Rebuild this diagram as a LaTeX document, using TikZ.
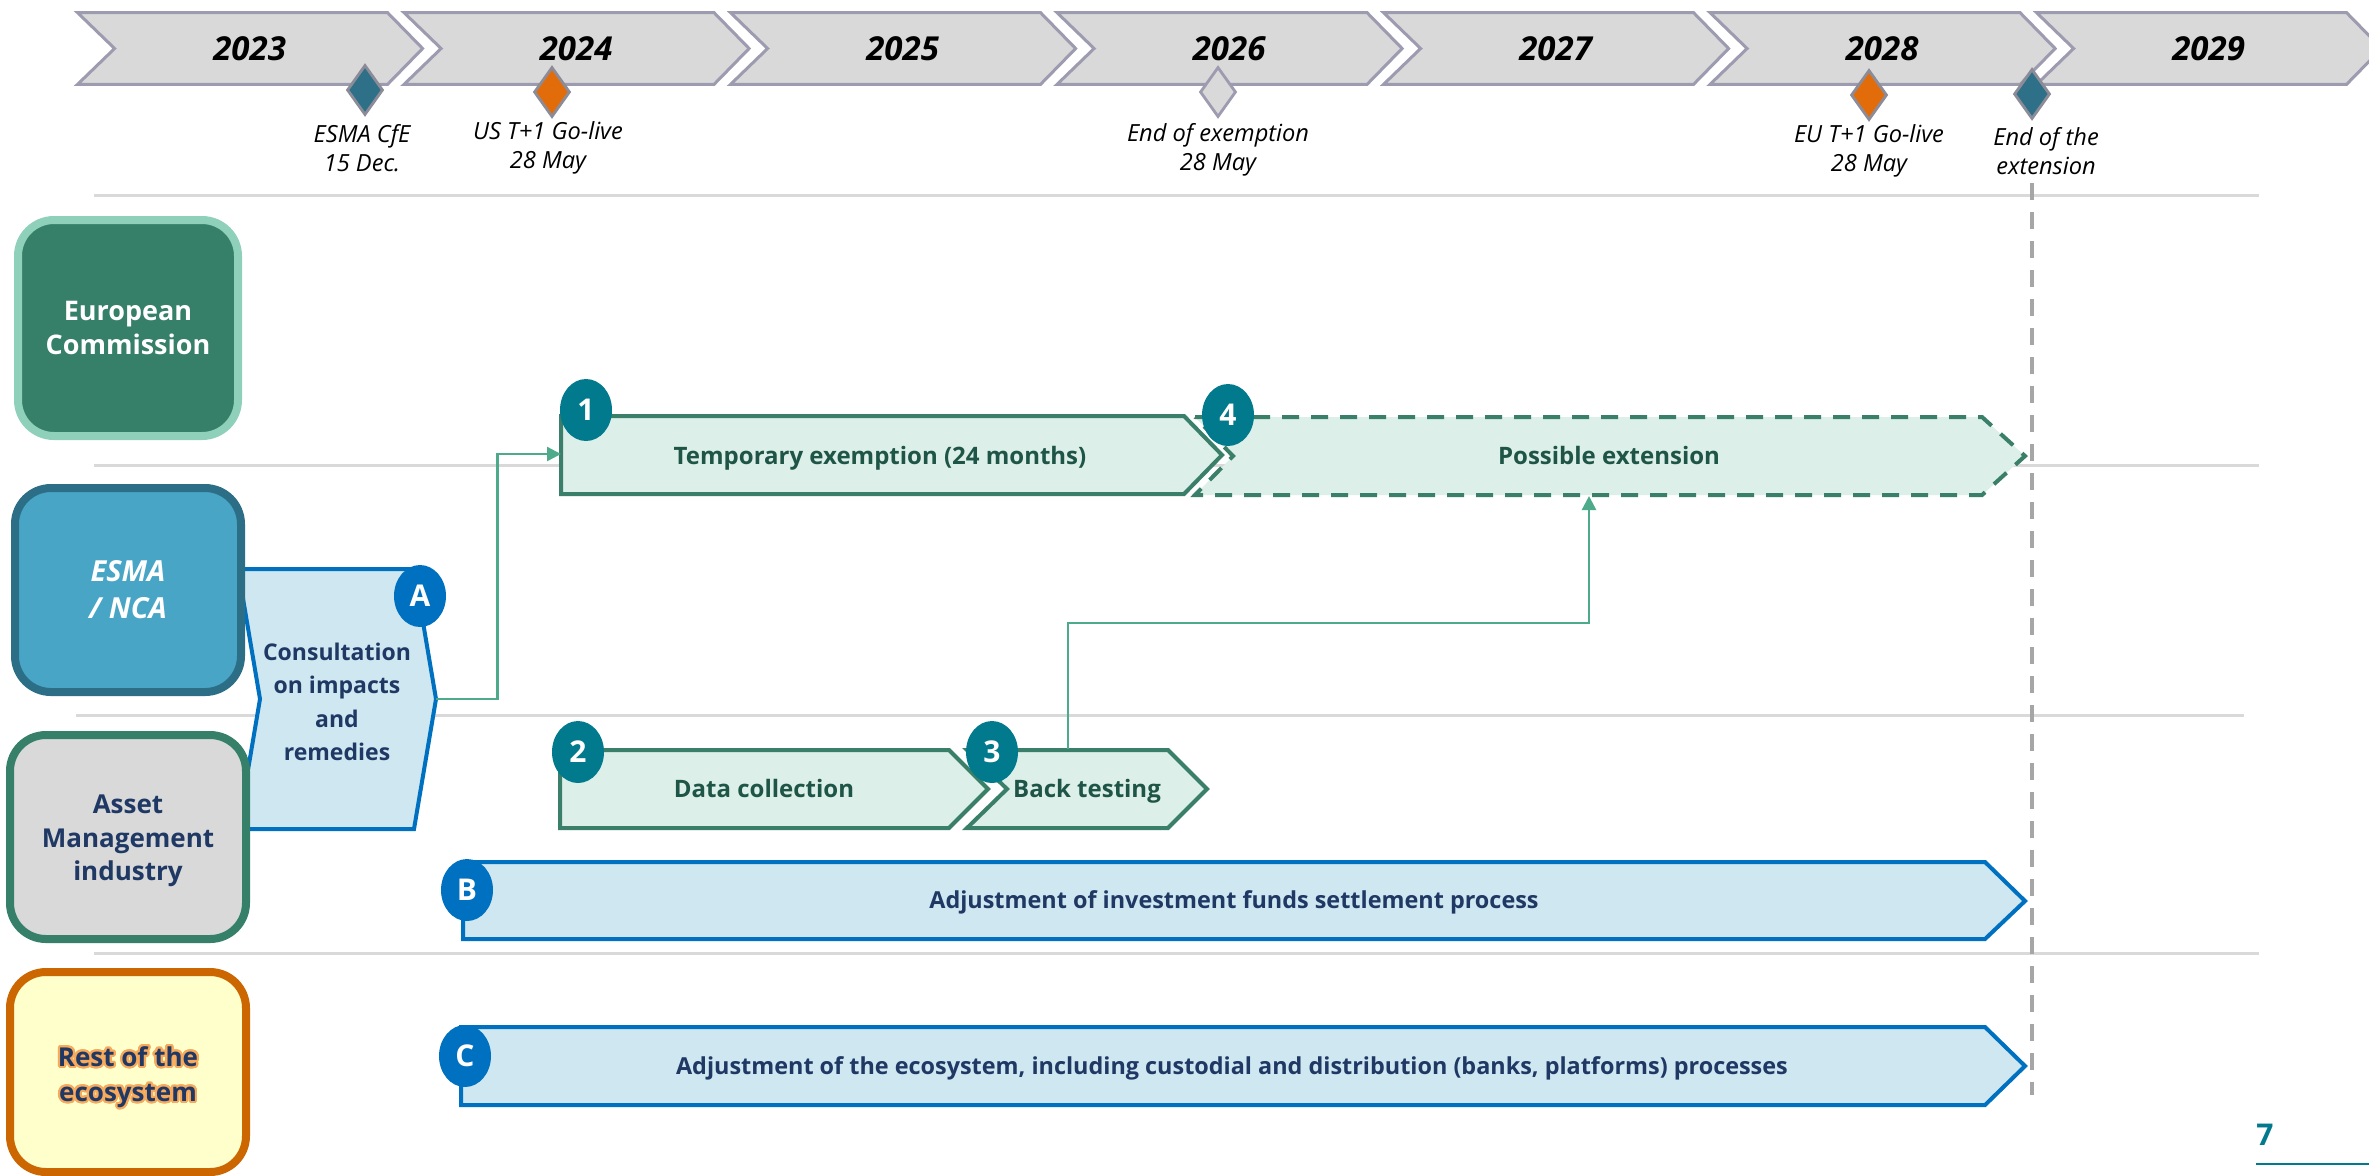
\documentclass[tikz,border=0pt]{standalone}
\usepackage{fontspec}
\setmainfont{Open Sans}
\usepackage{contour}
\contourlength{1.1pt}
\contournumber{24}
\usetikzlibrary{arrows.meta, positioning, shapes.geometric, calc}

\definecolor{yrFill}{HTML}{D9D9D9}
\definecolor{yrLine}{HTML}{9D9BB0}
\definecolor{msTeal}{HTML}{2E7088}
\definecolor{msOrange}{HTML}{E36C0A}
\definecolor{msLine}{HTML}{8C8C98}
\definecolor{sepGray}{HTML}{D9D9D9}
\definecolor{dashGray}{HTML}{A6A6A6}
\definecolor{ecFill}{HTML}{367F69}
\definecolor{ecLine}{HTML}{8FD0BB}
\definecolor{esFill}{HTML}{48A5C6}
\definecolor{esLine}{HTML}{2B6E86}
\definecolor{amFill}{HTML}{D9D9D9}
\definecolor{amLine}{HTML}{367F69}
\definecolor{reFill}{HTML}{FFFFCC}
\definecolor{reLine}{HTML}{CC6600}
\definecolor{reGlow}{HTML}{F7A95C}
\definecolor{navy}{HTML}{1F3864}
\definecolor{gLine}{HTML}{3A7F69}
\definecolor{gFill}{HTML}{DCEFE8}
\definecolor{gText}{HTML}{1E5546}
\definecolor{bLine}{HTML}{0070C0}
\definecolor{bFill}{HTML}{CFE7F0}
\definecolor{tealC}{HTML}{007A8C}
\definecolor{linkGreen}{HTML}{4DAA8A}

\begin{document}
\begin{tikzpicture}[x=0.5pt, y=-0.5pt,
  yearbox/.style={draw=yrLine, fill=yrFill, line width=1.5pt},
  yeartxt/.style={font=\fontsize{16.5}{19}\selectfont\bfseries\itshape},
  mstone/.style={diamond, draw=msLine, fill=#1, line width=1.4pt, inner sep=0pt,
    minimum width=18pt, minimum height=25pt},
  mstxt/.style={align=center, font=\fontsize{11.8}{14.3}\selectfont\itshape},
  sepline/.style={draw=sepGray, line width=1.5pt},
  actor/.style={rectangle, rounded corners=18pt, line width=4pt, align=center, inner sep=0pt},
  gbar/.style={draw=gLine, fill=gFill, line width=2pt},
  bbar/.style={draw=bLine, fill=bFill, line width=2pt},
  bartxt/.style={font=\fontsize{12}{14}\selectfont\bfseries, text height=8.6pt, text depth=0pt},
  badge/.style={ellipse, fill=#1, text=white, inner sep=0pt,
    minimum width=26pt, minimum height=31pt, font=\fontsize{15}{15}\selectfont\bfseries},
  link/.style={draw=linkGreen, line width=1.2pt, -{Triangle[length=7pt,width=7pt]}}
]
\clip (0,0) rectangle (2369,1175);
\fill[white] (0,0) rectangle (2369,1175);

% lane separators and the end-of-extension guide
\draw[sepline] (94,195) -- (2259,195);
\draw[sepline] (94,465) -- (2259,465);
\draw[sepline] (76,715) -- (2244,715);
\draw[sepline] (94,953) -- (2259,953);
\draw[dashGray, line width=2pt, dash pattern=on 8.5pt off 6pt] (2031.5,183) -- (2031.5,1095);

% years
\foreach \yr [count=\i from 0] in {2023,...,2029} {
  \draw[yearbox] ({77.6+326.5*\i},12.7) -- ++(310,0) -- ++(35,35.8) -- ++(-35,35.8)
    -- ++(-310,0) -- ++(37,-35.8) -- cycle;
  \node[yeartxt] (yr\yr) at ({249.6+326.5*\i},48.5) {\yr};
}

% milestones
\node[mstone=msTeal] (mCfe) at (365,90) {};
\node[mstone=msOrange] (mUs) at (552,92) {};
\node[mstone=yrFill, draw=yrLine] (mExem) at (1218,92) {};
\node[mstone=msOrange] (mEu) at (1869,95) {};
\node[mstone=msTeal] (mExt) at (2032,94) {};

\node[mstxt] (lCfe) at (362,148) {ESMA CfE\\15 Dec.};
\node[mstxt] (lUs) at (548,148) {US T+1 Go-live\\28 May};
\node[mstxt] (lExem) at (1218,150) {End of exemption\\28 May};
\node[mstxt] (lEu) at (1869,151) {EU T+1 Go-live\\28 May};
\node[mstxt] (lExt) at (2046,151) {End of the\\extension};

% consultation (sits behind the actor boxes)
\draw[bbar] (238,569) -- (414,569) -- (436,699) -- (414,829) -- (238,829) -- (260,699) -- cycle;
\node[align=center, text=navy, font=\fontsize{11.5}{16.75}\selectfont\bfseries] (consult) at (337,702)
  {Consultation\\on impacts\\and\\remedies};

% actors
\node[actor, draw=ecLine, fill=ecFill, text=white, minimum width=110pt, minimum height=108pt,
  font=\fontsize{13.5}{17}\selectfont\bfseries] (ec) at (128,328) {European\\Commission};
\node[actor, draw=esLine, fill=esFill, text=white, minimum width=113pt, minimum height=102pt,
  font=\fontsize{14.5}{18.5}\selectfont\bfseries\itshape] (esma) at (128,590) {ESMA\\/ NCA};
\node[actor, draw=amLine, fill=amFill, text=navy, minimum width=118pt, minimum height=102pt,
  font=\fontsize{13}{16.75}\selectfont\bfseries] (am) at (128,837) {};
\node[align=center, text=navy, font=\fontsize{13}{16.75}\selectfont\bfseries] (amTxt) at (128,841)
  {Asset\\Management\\industry};
\node[actor, draw=reLine, fill=reFill, minimum width=118pt, minimum height=100pt] (rest) at (128,1072) {};
\node[align=center, text=navy, font=\fontsize{13}{17.5}\selectfont\bfseries] (restTxt) at (128,1078)
  {\contour{reGlow}{Rest of the}\\\contour{reGlow}{ecosystem}};

% work streams
\draw[gbar, dash pattern=on 8.5pt off 6pt] (1195,417) -- (1982,417) -- (2025,456) -- (1982,495)
  -- (1195,495) -- (1233,456) -- cycle;
\draw[gbar] (561,416) -- (1184,416) -- (1222,455) -- (1184,494) -- (561,494) -- cycle;
\draw[gbar] (560,750) -- (949,750) -- (988,789) -- (949,828) -- (560,828) -- cycle;
\draw[gbar] (967,750) -- (1168,750) -- (1207,789) -- (1168,828) -- (967,828) -- (1007,789) -- cycle;
\draw[bbar] (463,862) -- (1985,862) -- (2025,901) -- (1985,939) -- (463,939) -- cycle;
\draw[bbar] (461,1027) -- (1985,1027) -- (2025,1066) -- (1985,1105) -- (461,1105) -- cycle;

\node[bartxt, text=gText] (exem) at (880,456) {Temporary exemption (24 months)};
\node[bartxt, text=gText] (ext) at (1609,456) {Possible extension};
\node[bartxt, text=gText] (data) at (764,789) {Data collection};
\node[bartxt, text=gText] (back) at (1087,789) {Back testing};
\node[bartxt, text=navy, font=\fontsize{11.7}{14}\selectfont\bfseries] (adjB) at (1234,900)
  {Adjustment of investment funds settlement process};
\node[bartxt, text=navy, font=\fontsize{11.7}{14}\selectfont\bfseries] (adjC) at (1232,1066)
  {Adjustment of the ecosystem, including custodial and distribution (banks, platforms) processes};

% links
\coordinate (consultTip) at (436,699);
\coordinate (exemIn) at (561,454);
\coordinate (backTop) at (1068,749);
\coordinate (extIn) at (1589,496);
\draw[link] (consultTip) -- ++(61.5,0) |- (exemIn);
\draw[link] (backTop) -- ++(0,-126) -| (extIn);

% badges
\node[badge=tealC] (n1) at (586,410) {1};
\node[badge=tealC] (n4) at (1228,415) {4};
\node[badge=tealC] (n2) at (578,752) {2};
\node[badge=tealC] (n3) at (992,752) {3};
\node[badge=bLine] (nA) at (420,596) {A};
\node[badge=bLine] (nB) at (467,890) {B};
\node[badge=bLine] (nC) at (465,1056) {C};

% page number
\node[text=tealC, font=\fontsize{15}{15}\selectfont\bfseries] (pnum) at (2265,1135) {7};
\draw[tealC, line width=0.8pt] (2256,1164) -- (2369,1164);
\end{tikzpicture}
\end{document}
